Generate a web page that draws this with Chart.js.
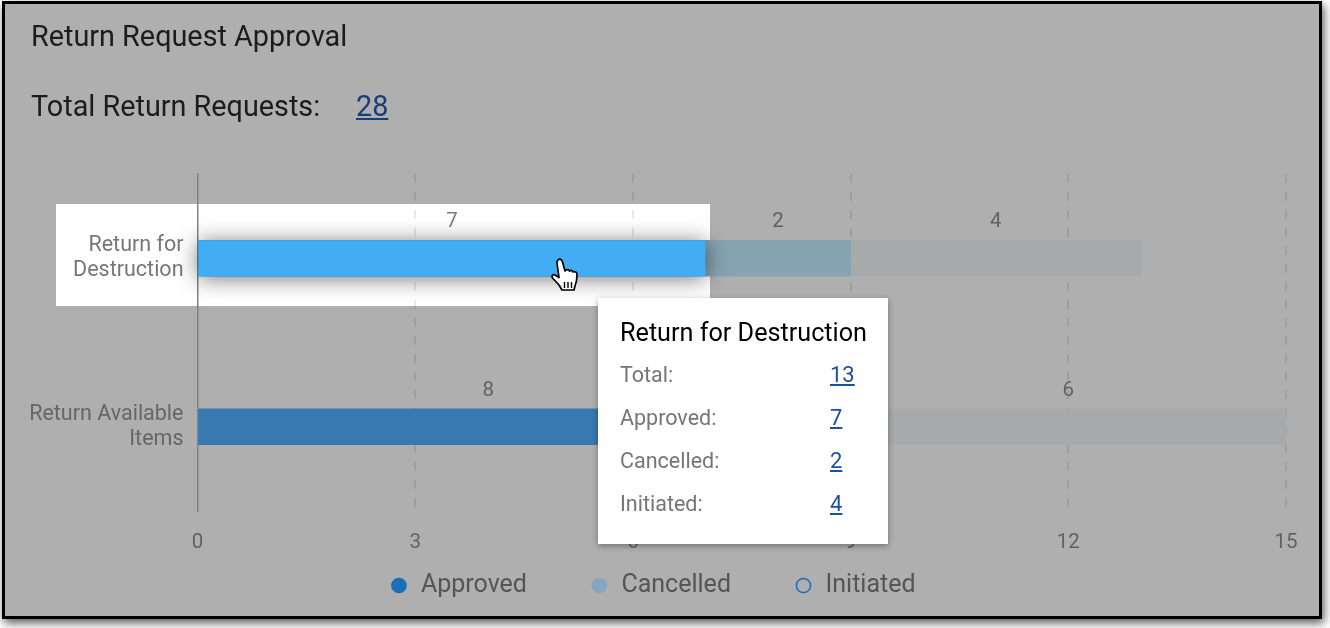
<!DOCTYPE html>
<html><head><meta charset="utf-8">
<script src="https://cdn.jsdelivr.net/npm/chart.js@4"></script>
<style>
html,body{margin:0;padding:0;background:#fff;width:1330px;height:628px;overflow:hidden;font-family:Roboto,sans-serif}
#panel{position:absolute;left:2px;top:1px;width:1314px;height:612px;border:3px solid #000;background:#afafaf;box-shadow:2px 4px 9px rgba(0,0,0,.65)}
#hl{position:absolute;left:56px;top:204px;width:654px;height:102px;background:#fff}
canvas{position:absolute;left:0;top:0}
.t{position:absolute;white-space:nowrap;color:#1c1c1c}
a{color:#1a3c78;text-decoration:underline}
#title{left:31px;top:19px;font-size:28.800px;line-height:34px}
#total{left:31px;top:89px;font-size:28.800px;line-height:34px}
#totalv{left:356px;top:89px;font-size:28.800px;line-height:34px}
#tip{position:absolute;left:598px;top:298px;width:290px;height:246px;background:#fff;box-shadow:0 2px 6px rgba(0,0,0,.35)}
#tip .h{position:absolute;left:22px;top:20px;font-size:25.200px;line-height:30px;color:#000;white-space:nowrap}
#tip .k{position:absolute;left:22px;font-size:21.500px;line-height:26px;color:#757575}
#tip .v{position:absolute;left:232px;font-size:22px;line-height:26px}
#tip a{color:#1d4f9e}
#hand{position:absolute;left:549px;top:257px}
</style></head><body>
<div id="panel"></div>
<div id="hl"></div>
<canvas id="c" width="1330" height="628"></canvas>
<div class="t" id="title">Return Request Approval</div>
<div class="t" id="total">Total Return Requests:</div>
<div class="t" id="totalv"><a href="#">28</a></div>
<div id="tip"></div>
<svg id="hand" width="36" height="38" viewBox="0 0 36 38">
<path d="M9 3c2-2 4 0 4.500 2l2.500 9 1-1c2-1 3 0 3.500 1 1.500-1 3-.5 3.500 1 2-1 4 0 4 2.500 0 4-.5 8-2 11.500l-1 4H13l-3-5-6.500-7c-1.500-2 .5-4 2.500-3l4 2.500L8 6c-.3-1.200.2-2.300 1-3z" fill="#fff" stroke="#000" stroke-width="1.700" stroke-linejoin="round"/>
<path d="M15.500 25v6M19 25v6M22.500 25v6" stroke="#000" stroke-width="1.400"/>
</svg>
<script>
const categories = [["Return for","Destruction"],["Return Available","Items"]];
const seriesNames = ["Approved","Cancelled","Initiated"];
const approved = [7,8];
const cancelled = [2,1];
const initiated = [4,6];
const xTicks = [0,3,6,9,12,15];
const totalRequests = 28;
const barColors = {Approved:["#42adf2","#3779b0"],Cancelled:["#87a3b3","#87a3b3"],Initiated:["#a8a9aa","#a8a9aa"]};
const legendFill = ["#1a6fb8","#86a7bd","rgba(0,0,0,0)"];
const legendStroke = ["#1a6fb8","#86a7bd","#1a6fb8"];

const tip = document.getElementById('tip');
const catName = categories[0].join(' ');
const total0 = approved[0]+cancelled[0]+initiated[0];
let html = '<div class="h">'+catName+'</div>';
[["Total:",total0],["Approved:",approved[0]],["Cancelled:",cancelled[0]],["Initiated:",initiated[0]]].forEach((r,i)=>{
  const y = 64+i*43;
  html += '<div class="k" style="top:'+y+'px">'+r[0]+'</div><div class="v" style="top:'+y+'px"><a href="#">'+r[1]+'</a></div>';
});
tip.innerHTML = html;
document.querySelector('#totalv a').textContent = totalRequests;

const valueLabels = {
  id:'valueLabels',
  afterLayout(chart){ chart.legend.top = 510; },
  afterDatasetsDraw(chart){
    const ctx = chart.ctx;
    const el = chart.getDatasetMeta(0).data[0];
    ctx.save();
    ctx.shadowColor='rgba(0,0,0,.55)';ctx.shadowBlur=22;ctx.shadowOffsetY=2;
    ctx.fillStyle=barColors.Approved[0];
    ctx.fillRect(el.base,el.y-el.height/2,el.x-el.base,el.height);
    ctx.restore();
    ctx.save();
    ctx.font='20.5px Roboto';ctx.textAlign='center';ctx.textBaseline='middle';
    chart.data.datasets.forEach((ds,d)=>{
      chart.getDatasetMeta(d).data.forEach((b,i)=>{
        ctx.fillStyle=(d===0&&i===0)?'#7a7a7a':'#626262';
        ctx.fillText(ds.data[i],(b.x+b.base)/2,b.y-b.height/2-18);
      });
    });
    ctx.restore();
  }
};

new Chart(document.getElementById('c'),{
  type:'bar',
  plugins:[valueLabels],
  data:{labels:categories,datasets:[
    {label:seriesNames[0],data:approved,backgroundColor:barColors.Approved},
    {label:seriesNames[1],data:cancelled,backgroundColor:barColors.Cancelled},
    {label:seriesNames[2],data:initiated,backgroundColor:barColors.Initiated}
  ]},
  options:{
    indexAxis:'y',responsive:false,animation:false,
    events:[],
    barThickness:36,
    layout:{padding:{left:19,right:44,top:174,bottom:-27}},
    scales:{
      x:{stacked:true,min:xTicks[0],max:xTicks[xTicks.length-1],
        ticks:{stepSize:3,color:'#626262',font:{family:'Roboto',size:20.5},padding:20,maxRotation:0},
        grid:{drawTicks:false,color:c=>c.tick&&c.tick.value===0?'rgba(0,0,0,0)':'rgba(0,0,0,.085)',lineWidth:2},
        border:{display:false,dash:[9,9]},
        afterFit(s){s.paddingRight=0;s.paddingLeft=0;s.height=46;}
      },
      y:{stacked:true,
        ticks:{color:c=>c.index===0?'#777':'#666',font:{family:'Roboto',size:21.5,lineHeight:1.17},padding:14},
        grid:{display:false,drawTicks:false},
        border:{display:true,color:'#828282',width:1.5},
        afterFit(s){s.width=178.5;}
      }
    },
    plugins:{
      tooltip:{enabled:false},
      legend:{position:'bottom',
        labels:{usePointStyle:true,pointStyle:'circle',boxWidth:19,boxHeight:10,padding:63,color:'#555',
          font:{family:'Roboto',size:25},
          generateLabels:()=>seriesNames.map((n,i)=>({text:n,fillStyle:legendFill[i],strokeStyle:legendStroke[i],lineWidth:1.5,pointStyle:'circle',fontColor:'#555',hidden:false,datasetIndex:i}))
        }
      }
    }
  }
});
</script>
</body></html>
